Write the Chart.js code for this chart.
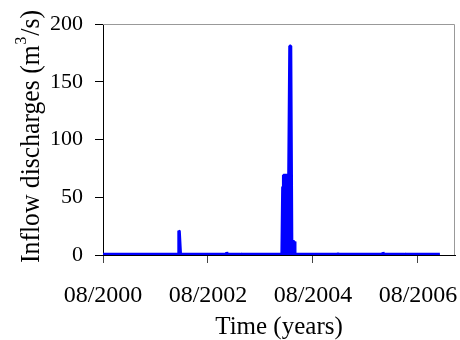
<!DOCTYPE html>
<html>
<head>
<meta charset="utf-8">
<script src="https://cdn.jsdelivr.net/npm/chart.js@4.4.0/dist/chart.umd.min.js"></script>
<style>
    html, body { margin: 0; background: #fff; }
    #contenedor { width: 460px; height: 340px; }
</style>
</head>
<body>
<div id="contenedor"><canvas id="grafico"></canvas></div>
<script>
// fechas en años decimales, caudales en m3/s
const fechas = [2000.58, 2002.02, 2002.027, 2002.037, 2002.06, 2002.93, 2002.94, 2002.95,
    2003.195, 2003.205, 2003.215, 2003.99, 2004.005, 2004.015, 2004.02, 2004.12, 2004.14,
    2004.16, 2004.18, 2004.225, 2004.24, 2005.05, 2005.06, 2005.07, 2005.905, 2005.916,
    2005.927, 2006.32, 2006.33, 2006.34, 2007.0];
const caudales = [0.7, 0.7, 21, 20.5, 0.7, 0.7, 2.5, 0.7,
    0.7, 1.3, 0.7, 0.7, 58.7, 59, 69, 69, 181,
    181, 11.7, 11.7, 0.7, 0.7, 1.1, 0.7, 0.7, 2.4,
    0.7, 0.7, 1.0, 0.7, 0.7];
const ticksX = [2000.583, 2002.583, 2004.583, 2006.583];
const etiquetasX = ["08/2000", "08/2002", "08/2004", "08/2006"];
const ticksY = [0, 50, 100, 150, 200];

const fuente = "'Liberation Serif', 'Times New Roman', serif";

// borde gris arriba y a la derecha + títulos de los ejes
const marcoYTitulos = {
    id: "marcoYTitulos",
    afterDraw(chart) {
        const { ctx, chartArea: a } = chart;
        ctx.save();
        ctx.strokeStyle = "#999";
        ctx.lineWidth = 1;
        ctx.beginPath();
        ctx.moveTo(a.left, a.top + 0.5);
        ctx.lineTo(a.right - 0.5, a.top + 0.5);
        ctx.lineTo(a.right - 0.5, a.bottom);
        ctx.stroke();

        // título eje x
        ctx.fillStyle = "#000";
        ctx.font = "25px " + fuente;
        ctx.textAlign = "center";
        ctx.textBaseline = "alphabetic";
        ctx.fillText("Time (years)", (a.left + a.right) / 2, 334);

        // título eje y con superíndice
        const p1 = "Inflow discharges (m", sup = "3", p2 = "/s)";
        ctx.font = "28px " + fuente;
        const w1 = ctx.measureText(p1).width;
        const w3 = ctx.measureText(p2).width;
        ctx.font = "17px " + fuente;
        const w2 = ctx.measureText(sup).width + 2;
        const total = w1 + w2 + w3;
        const escala = 253 / total;
        ctx.translate(39, 136.5);
        ctx.rotate(-Math.PI / 2);
        ctx.scale(escala, 1);
        ctx.textAlign = "left";
        let x = -total / 2;
        ctx.font = "28px " + fuente;
        ctx.fillText(p1, x, 0);
        x += w1 + 1;
        ctx.font = "17px " + fuente;
        ctx.fillText(sup, x, -13);
        x += w2 - 1;
        ctx.font = "28px " + fuente;
        ctx.fillText(p2, x, 0);
        ctx.restore();
    }
};

new Chart(document.getElementById("grafico"), {
    type: "line",
    data: {
        datasets: [{
            data: fechas.map((f, i) => ({ x: f, y: caudales[i] })),
            borderColor: "#0000ff",
            backgroundColor: "#0000ff",
            borderWidth: 3,
            borderJoinStyle: "bevel",
            pointRadius: 0,
            tension: 0,
            fill: "origin"
        }]
    },
    options: {
        responsive: true,
        maintainAspectRatio: false,
        animation: false,
        layout: { padding: { top: 24, right: 5, left: 0, bottom: 0 } },
        plugins: { legend: { display: false }, tooltip: { enabled: false } },
        scales: {
            x: {
                type: "linear",
                min: 2000.583,
                max: 2007.288,
                afterFit: s => { s.height = 85; s.paddingLeft = 0; s.paddingRight = 0; },
                afterBuildTicks: s => { s.ticks = ticksX.map(v => ({ value: v })); },
                ticks: {
                    callback: (v, i) => etiquetasX[i],
                    color: "#000",
                    font: { family: fuente, size: 24 },
                    padding: 18,
                    maxRotation: 0,
                    autoSkip: false
                },
                grid: { drawOnChartArea: false, tickLength: 8, color: "#444" },
                border: { display: true, color: "#000", width: 1 }
            },
            y: {
                min: 0,
                max: 200,
                afterFit: s => { s.width = 103; s.paddingTop = 0; s.paddingBottom = 0; },
                afterBuildTicks: s => { s.ticks = ticksY.map(v => ({ value: v })); },
                ticks: {
                    color: "#000",
                    font: { family: fuente, size: 22 },
                    padding: 12
                },
                grid: { drawOnChartArea: false, tickLength: 8, color: "#000" },
                border: { display: true, color: "#000", width: 1 }
            }
        }
    },
    plugins: [marcoYTitulos]
});
</script>
</body>
</html>
